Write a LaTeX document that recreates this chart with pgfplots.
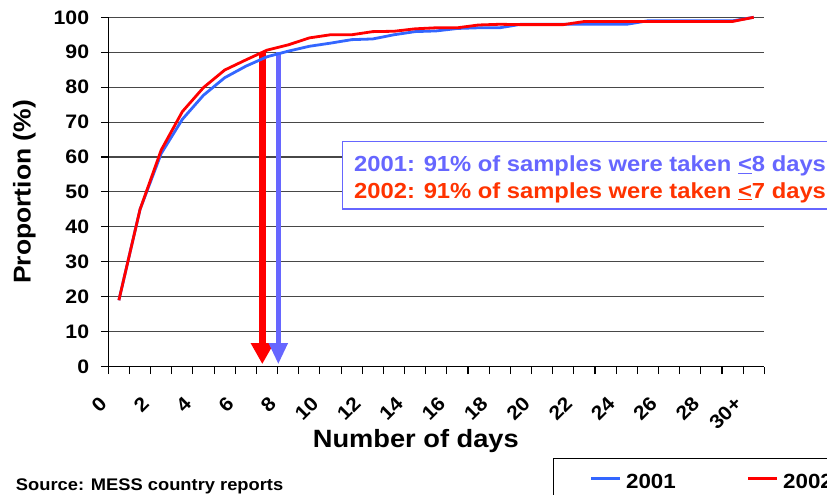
\documentclass[border=0pt]{standalone}
\usepackage{fontspec}
\setmainfont{Liberation Sans}[FakeStretch=1.09]
\usepackage{pgfplots}
\pgfplotsset{compat=1.18}
\usetikzlibrary{arrows.meta}
\definecolor{blueline}{RGB}{51,102,255}
\definecolor{redline}{RGB}{255,0,0}
\definecolor{arrowblue}{RGB}{102,102,255}
\definecolor{arrowred}{RGB}{255,0,0}
\definecolor{txtred}{RGB}{255,51,0}
\newcommand\fs[1]{\bfseries\fontsize{#1}{#1}\selectfont}
\begin{document}
\begin{tikzpicture}
\useasboundingbox (0pt,0pt) rectangle (827pt,495pt);
\begin{scope}
\clip (0pt,0pt) rectangle (827pt,495pt);
\begin{axis}[
  at={(108.3pt,128.4pt)}, anchor=south west,
  scale only axis, width=656pt, height=349.3pt,
  xmin=-0.5, xmax=30.5, ymin=0, ymax=100,
  axis lines=left, axis line style={-, black, line width=1.2pt},
  clip=false,
  tick align=outside, major tick length=7.5pt,
  tick style={black, line width=1.1pt},
  ytick={0,10,...,100},
  xtick={-0.5,0.5,...,30.5}, xticklabels={},
  extra x ticks={0,2,...,30},
  extra x tick labels={0,2,4,6,8,10,12,14,16,18,20,22,24,26,28,30+},
  extra x tick style={major tick length=0pt, tick style={draw=none}},
  /pgf/number format/assume math mode=true,
  yticklabel style={font=\fs{19.5}, inner sep=0pt, xshift=-11.5pt},
  xticklabel style={font=\fs{19.5}, inner sep=0pt, xshift=-20.5pt, yshift=-28.7pt, rotate=45, anchor=north east},
  ymajorgrids, grid style={black!72, line width=1.1pt},
  xlabel={Number of days},
  ylabel={Proportion (\%)},
  every axis x label/.style={at={(axis description cs:0.4688,-0.231)}, anchor=base, font=\fs{25}},
  every axis y label/.style={at={(axis description cs:-0.1183,0.5)}, rotate=90, anchor=base, font=\fs{24.3}},
  legend columns=2,
  legend style={at={(0.6774,-0.2625)}, anchor=north west, draw=black, line width=1pt,
    font=\fs{20.5}, inner xsep=36.5pt, inner ysep=15.5pt,
    nodes={inner sep=0pt},
    /tikz/every odd column/.append style={column sep=4.4pt},
    /tikz/every even column/.append style={column sep=71pt}},
  legend image code/.code={\draw[#1, line width=3pt] (0pt,0.35em) -- (29pt,0.35em);},
]
\addplot[arrowred, line width=7pt, -{Triangle[width=21.7pt,length=21pt]}, forget plot]
  coordinates {(6.778,90) (6.778,0.7)};
\addplot[arrowblue, line width=4.7pt, -{Triangle[width=18pt,length=21pt]}, forget plot]
  coordinates {(7.534,90) (7.534,0.7)};
\addplot[blueline, line width=2.8pt, line join=round] coordinates {
 (0,19) (1,45) (2,61) (3,70.8) (4,77.7) (5,82.7) (6,86) (7,88.7) (8,90.3) (9,91.7)
 (10,92.6) (11,93.6) (12,93.8) (13,95) (14,95.9) (15,96.1) (16,96.8) (17,97) (18,97)
 (19,98) (20,98) (21,98) (22,98) (23,98) (24,98) (25,99) (26,99) (27,99) (28,99) (29,99) (30,100)};
\addlegendentry{2001}
\addplot[redline, line width=2.8pt, line join=round] coordinates {
 (0,19) (1,45) (2,62) (3,73) (4,79.9) (5,84.9) (6,87.8) (7,90.6) (8,92.1) (9,94.1)
 (10,95) (11,95) (12,95.9) (13,96) (14,96.7) (15,97) (16,97) (17,97.8) (18,98)
 (19,97.9) (20,97.9) (21,97.9) (22,98.8) (23,98.8) (24,98.8) (25,98.8) (26,98.8) (27,98.8) (28,98.8) (29,98.8) (30,100)};
\addlegendentry{2002}
\end{axis}
\draw[arrowblue, line width=1.2pt, fill=white] (342.7pt,286pt) rectangle (900pt,353.3pt);
\node[anchor=base west, inner sep=0pt, text=arrowblue, font=\fs{21.8}] at (354pt,323.3pt)
  {2001: 91\% of samples were taken \underline{<}8 days};
\node[anchor=base west, inner sep=0pt, text=txtred, font=\fs{21.8}] at (354pt,296.7pt)
  {2002: 91\% of samples were taken \underline{<}7 days};
\node[anchor=base west, inner sep=0pt, font=\fs{16.8}] at (15.8pt,4pt) {Source: MESS country reports};
\end{scope}
\end{tikzpicture}
\end{document}
